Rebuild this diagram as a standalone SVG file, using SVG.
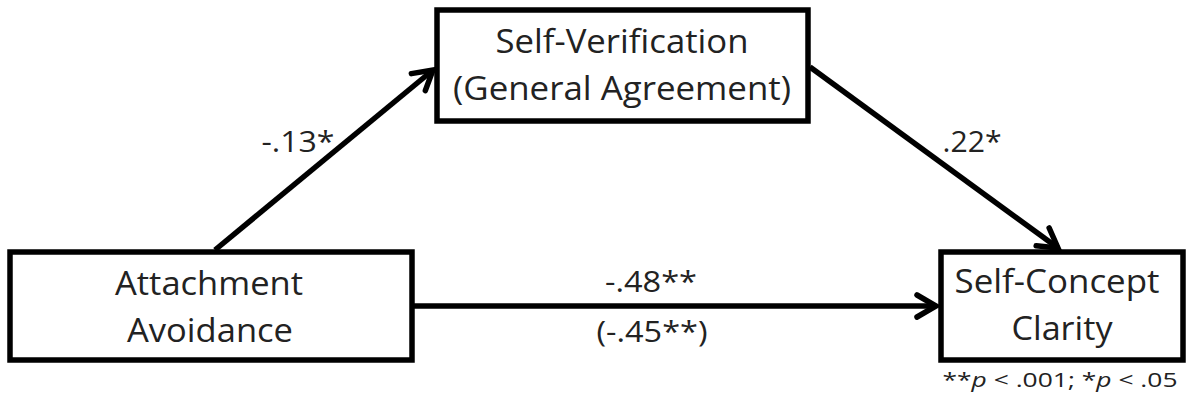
<svg xmlns="http://www.w3.org/2000/svg" width="1186" height="404" viewBox="0 0 1186 404">
<style>
.box{fill:#fff;stroke:#000;stroke-width:5.5}
.t{font-family:"Open Sans","Liberation Sans",sans-serif;font-size:32px;fill:#222;text-anchor:middle}
.lbl{font-family:"Open Sans","Liberation Sans",sans-serif;font-size:29px;fill:#222;text-anchor:middle}
.note{font-family:"Open Sans","Liberation Sans",sans-serif;font-size:20px;fill:#222;text-anchor:middle}
.edge{stroke:#000;stroke-width:5.5;fill:none;marker-end:url(#arr)}
</style>
<defs>
<marker id="arr" markerUnits="userSpaceOnUse" markerWidth="40" markerHeight="40" viewBox="-30 -20 40 40" refX="0" refY="0" orient="auto" overflow="visible">
<path d="M-19,-11 L0,0 L-19,11" fill="none" stroke="#000" stroke-width="5.5" stroke-linejoin="miter" stroke-linecap="round"/>
</marker>
</defs>
<g id="connectors">
<line class="edge" x1="215" y1="250" x2="433" y2="70"/>
<line class="edge" x1="810" y1="67" x2="1058" y2="248"/>
<line class="edge" x1="414" y1="306" x2="936" y2="306"/>
</g>
<g id="attachment-avoidance">
<rect class="box" x="10" y="252" width="402" height="108"/>
<text class="t" x="209" y="295" textLength="188" lengthAdjust="spacingAndGlyphs">Attachment</text>
<text class="t" x="210" y="342" textLength="166" lengthAdjust="spacingAndGlyphs">Avoidance</text>
</g>
<g id="self-verification">
<rect class="box" x="437" y="10" width="371" height="111"/>
<text class="t" x="622" y="53" textLength="253" lengthAdjust="spacingAndGlyphs">Self-Verification</text>
<text class="t" x="622" y="100" textLength="338" lengthAdjust="spacingAndGlyphs">(General Agreement)</text>
</g>
<g id="self-concept-clarity">
<rect class="box" x="941" y="252" width="242" height="108"/>
<text class="t" x="1057" y="293" textLength="205" lengthAdjust="spacingAndGlyphs">Self-Concept</text>
<text class="t" x="1062" y="340" textLength="101" lengthAdjust="spacingAndGlyphs">Clarity</text>
</g>
<g id="labels">
<text class="lbl" x="298" y="152" textLength="73" lengthAdjust="spacingAndGlyphs">-.13*</text>
<text class="lbl" x="972" y="152" textLength="59" lengthAdjust="spacingAndGlyphs">.22*</text>
<text class="lbl" x="651" y="292" textLength="92" lengthAdjust="spacingAndGlyphs">-.48**</text>
<text class="lbl" x="652" y="342" textLength="111" lengthAdjust="spacingAndGlyphs">(-.45**)</text>
<text class="note" x="1060" y="387" textLength="235" lengthAdjust="spacingAndGlyphs">**<tspan font-style="italic">p</tspan> &lt; .001; *<tspan font-style="italic">p</tspan> &lt; .05</text>
</g>
</svg>
